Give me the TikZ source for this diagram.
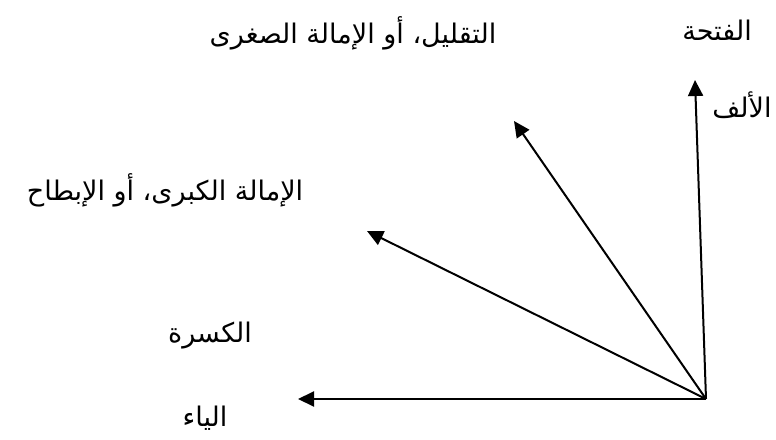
\documentclass[tikz,border=0pt]{standalone}
\usepackage{fontspec}
\usetikzlibrary{arrows.meta}
\TeXXeTstate=1
\newfontfamily\arabicfont[Script=Arabic]{DejaVu Sans}

\begin{document}
\begin{tikzpicture}[x=1pt, y=-1pt, lbl/.style={font=\arabicfont\fontsize{27}{32}\selectfont, inner sep=0pt}, vec/.style={line width=2pt, -{Triangle[length=16pt, width=15pt]}}]
\useasboundingbox (0,0) rectangle (776,439);
\coordinate (o) at (706,399);
\coordinate (alifTip) at (695,80);
\coordinate (sughraTip) at (514,121);
\coordinate (kubraTip) at (367,231);
\coordinate (yaTip) at (298,399);
\node[lbl] (fatha) at (717,30) {\beginR الفتحة\endR};
\node[lbl] (sughra) at (353,33) {\beginR التقليل، أو الإمالة الصغرى\endR};
\node[lbl] (alif) at (742,105) {\beginR الألف\endR};
\node[lbl] (kubra) at (165,190) {\beginR الإمالة الكبرى، أو الإبطاح\endR};
\node[lbl] (kasra) at (210,336) {\beginR الكسرة\endR};
\node[lbl] (ya) at (205,418) {\beginR الياء\endR};
\draw[vec] (o) -- (alifTip);
\draw[vec] (o) -- (sughraTip);
\draw[vec] (o) -- (kubraTip);
\draw[vec] (o) -- (yaTip);
\end{tikzpicture}
\end{document}
